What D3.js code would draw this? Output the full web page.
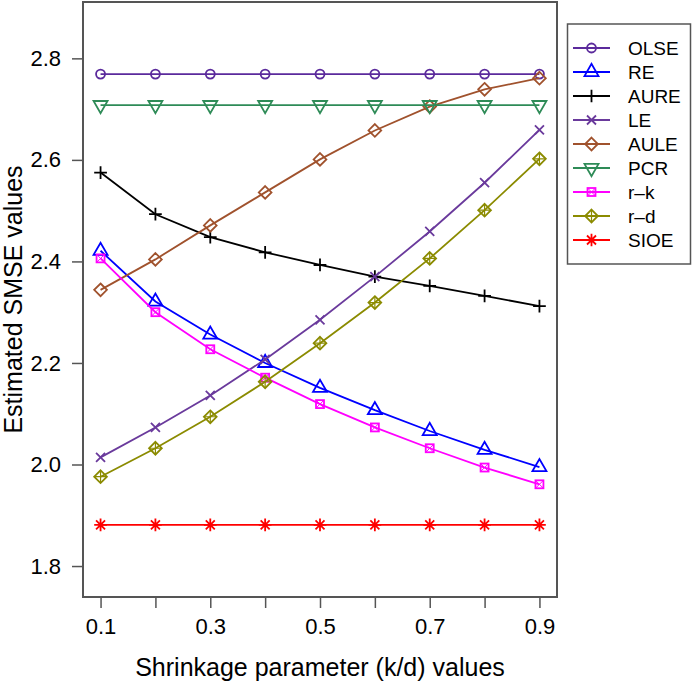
<!DOCTYPE html>
<html>
<head>
<meta charset="utf-8">
<script src="https://cdn.jsdelivr.net/npm/d3@7"></script>
<style>
  body { margin: 0; background: #fff; }
  text { font-family: "Liberation Sans", Arial, sans-serif; }
</style>
</head>
<body>
<svg id="chart" width="700" height="700"></svg>
<script>
// shrinkage parameter values
var kValues = [0.1, 0.2, 0.3, 0.4, 0.5, 0.6, 0.7, 0.8, 0.9];
var xTickLabels = [0.1, 0.3, 0.5, 0.7, 0.9];
var yTicks = [1.8, 2.0, 2.2, 2.4, 2.6, 2.8];

// estimated SMSE per estimator
var olse = [2.769, 2.769, 2.769, 2.769, 2.769, 2.769, 2.769, 2.769, 2.769];
var re   = [2.421, 2.321, 2.256, 2.200, 2.151, 2.107, 2.066, 2.029, 1.995];
var aure = [2.575, 2.493, 2.448, 2.418, 2.393, 2.370, 2.352, 2.332, 2.312];
var le   = [2.014, 2.073, 2.136, 2.207, 2.285, 2.370, 2.459, 2.555, 2.659];
var aule = [2.344, 2.404, 2.471, 2.536, 2.601, 2.658, 2.705, 2.739, 2.761];
var pcr  = [2.708, 2.708, 2.708, 2.708, 2.708, 2.708, 2.708, 2.708, 2.708];
var rk   = [2.406, 2.300, 2.227, 2.171, 2.119, 2.073, 2.032, 1.994, 1.961];
var rd   = [1.976, 2.032, 2.094, 2.163, 2.239, 2.319, 2.406, 2.501, 2.602];
var sioe = [1.881, 1.881, 1.881, 1.881, 1.881, 1.881, 1.881, 1.881, 1.881];

var seriesNames = ["OLSE", "RE", "AURE", "LE", "AULE", "PCR", "r\u2013k", "r\u2013d", "SIOE"];
var seriesValues = [olse, re, aure, le, aule, pcr, rk, rd, sioe];
var colors = ["#5b2a9c", "#0000ff", "#000000", "#6a3a9c", "#a0522d", "#2e8b57", "#ff00ff", "#8b8b00", "#ff0000"];
var shapes = ["circle", "triUp", "plus", "cross", "diamond", "triDown", "sqx", "dmdplus", "star"];

var svg = d3.select("#chart");
var pLeft = 83, pRight = 557, pTop = 2, pBottom = 597;

var x = d3.scaleLinear().domain([0.068, 0.932]).range([pLeft, pRight]);
var y = d3.scaleLinear().domain([1.739, 2.911]).range([pBottom, pTop]);

// marker drawing, R pch style
function drawMarker(g, shape, cx, cy, col) {
    var m = g.append("g").attr("transform", "translate(" + cx + "," + cy + ")")
        .attr("fill", "none").attr("stroke", col).attr("stroke-width", 1.8);
    var r = 4.5;
    if (shape == "circle") {
        m.append("circle").attr("r", r);
    } else if (shape == "triUp") {
        var t = 1.555 * r;
        m.append("path").attr("d", "M" + (-t) + "," + (t * 0.577) + "L" + t + "," + (t * 0.577) + "L0," + (-t * 1.155) + "Z");
    } else if (shape == "triDown") {
        var t = 1.555 * r;
        m.append("path").attr("d", "M" + (-t) + "," + (-t * 0.577) + "L" + t + "," + (-t * 0.577) + "L0," + (t * 1.155) + "Z");
    } else if (shape == "plus") {
        var p = 1.414 * r;
        m.append("path").attr("d", "M" + (-p) + ",0H" + p + "M0," + (-p) + "V" + p);
    } else if (shape == "cross") {
        m.append("path").attr("d", "M" + (-r) + "," + (-r) + "L" + r + "," + r + "M" + (-r) + "," + r + "L" + r + "," + (-r));
    } else if (shape == "diamond") {
        var d = 1.414 * r;
        m.append("path").attr("d", "M0," + (-d) + "L" + d + ",0L0," + d + "L" + (-d) + ",0Z");
    } else if (shape == "sqx") {
        var s = 0.886 * r;
        m.append("rect").attr("x", -s).attr("y", -s).attr("width", 2 * s).attr("height", 2 * s);
        m.append("path").attr("stroke-width", 1).attr("d", "M" + (-s) + "," + (-s) + "L" + s + "," + s + "M" + (-s) + "," + s + "L" + s + "," + (-s));
    } else if (shape == "dmdplus") {
        var d = 1.414 * r;
        m.append("path").attr("d", "M0," + (-d) + "L" + d + ",0L0," + d + "L" + (-d) + ",0Z");
        m.append("path").attr("stroke-width", 1.2).attr("d", "M" + (-d) + ",0H" + d + "M0," + (-d) + "V" + d);
    } else if (shape == "star") {
        var p = 1.414 * r;
        m.append("path").attr("d", "M" + (-p) + ",0H" + p + "M0," + (-p) + "V" + p +
            "M" + (-r) + "," + (-r) + "L" + r + "," + r + "M" + (-r) + "," + r + "L" + r + "," + (-r));
    }
}

var line = d3.line()
    .x(function (d, i) { return x(kValues[i]); })
    .y(function (d) { return y(d); });

var plot = svg.append("g");
seriesValues.forEach(function (vals, si) {
    plot.append("path")
        .datum(vals)
        .attr("fill", "none")
        .attr("stroke", colors[si])
        .attr("stroke-width", 1.8)
        .attr("d", line);
    vals.forEach(function (v, i) {
        drawMarker(plot, shapes[si], x(kValues[i]), y(v), colors[si]);
    });
});

// frame
svg.append("rect")
    .attr("x", pLeft).attr("y", pTop)
    .attr("width", pRight - pLeft).attr("height", pBottom - pTop)
    .attr("fill", "none").attr("stroke", "#555").attr("stroke-width", 2);

// axes
var yAxis = svg.append("g")
    .attr("transform", "translate(" + pLeft + ",0)")
    .call(d3.axisLeft(y).tickValues(yTicks).tickFormat(d3.format(".1f")).tickSize(11).tickPadding(11));
var xAxis = svg.append("g")
    .attr("transform", "translate(0," + pBottom + ")")
    .call(d3.axisBottom(x).tickValues(kValues)
        .tickFormat(function (d) { return xTickLabels.indexOf(d) >= 0 ? d3.format(".1f")(d) : ""; })
        .tickSize(11).tickPadding(10));
[yAxis, xAxis].forEach(function (a) {
    a.select(".domain").remove();
    a.selectAll(".tick line").attr("stroke", "#555").attr("stroke-width", 1.5);
    a.selectAll(".tick text").attr("fill", "#000").style("font-size", "22px");
});

// axis titles
svg.append("text")
    .attr("x", (pLeft + pRight) / 2).attr("y", 676)
    .attr("text-anchor", "middle")
    .style("font-size", "25px")
    .text("Shrinkage parameter (k/d) values");
svg.append("text")
    .attr("transform", "translate(22," + ((pTop + pBottom) / 2) + ") rotate(-90)")
    .attr("text-anchor", "middle")
    .style("font-size", "25px")
    .text("Estimated SMSE values");

// legend
var legend = svg.append("g");
legend.append("rect")
    .attr("x", 567.5).attr("y", 24)
    .attr("width", 123).attr("height", 240)
    .attr("fill", "#fff").attr("stroke", "#555").attr("stroke-width", 1.5);
seriesNames.forEach(function (name, i) {
    var ly = 48 + i * 24;
    legend.append("line")
        .attr("x1", 573).attr("x2", 610).attr("y1", ly).attr("y2", ly)
        .attr("stroke", colors[i]).attr("stroke-width", 1.8);
    drawMarker(legend, shapes[i], 591.5, ly, colors[i]);
    legend.append("text")
        .attr("x", 628).attr("y", ly + 7)
        .style("font-size", "19px")
        .text(name);
});
</script>
</body>
</html>
